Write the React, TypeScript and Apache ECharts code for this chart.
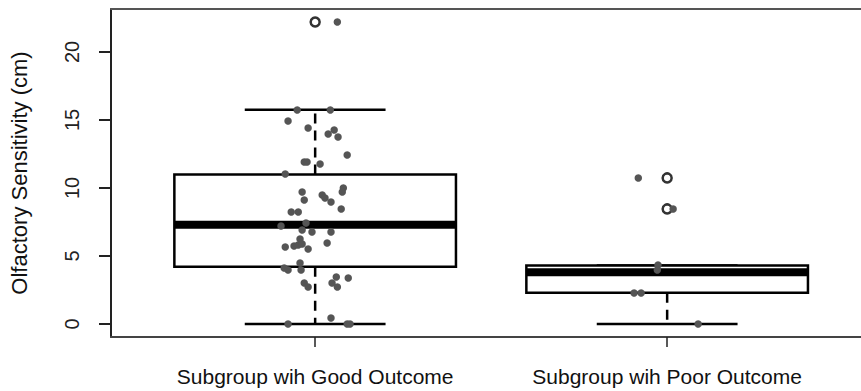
import React, { useEffect, useRef } from "react";
import * as echarts from "echarts";

const categories = ["Subgroup wih Good Outcome", "Subgroup wih Poor Outcome"];
const yTicks = [0, 5, 10, 15, 20];

// box stats: [group position, lower whisker, Q1, median, Q3, upper whisker]
const boxStats = [
  [1, 0, 4.2, 7.3, 11.0, 15.75],
  [2, 0, 2.3, 3.8, 4.3, 4.3],
];

// outliers drawn by boxplot (open circles)
const outlierX = [1, 2, 2];
const outlierY = [22.2, 10.74, 8.46];

// jittered raw points (strip chart)
const goodX = [
  0.949, 1.043, 0.923, 0.98, 1.054, 1.037, 1.065, 1.091, 0.969, 0.977, 1.014, 0.915,
  0.963, 0.969, 1.02, 1.028, 1.08, 1.077, 1.045, 1.074, 0.932, 0.952, 0.903, 0.974,
  0.963, 0.991, 1.045, 0.957, 1.034, 0.915, 0.94, 0.952, 0.963, 0.98, 0.912, 0.923,
  0.957, 0.96, 1.06, 1.094, 0.969, 0.98, 1.048, 1.063, 1.045, 0.923, 1.091, 1.099, 1.063,
];
const goodY = [
  15.74, 15.74, 14.93, 14.41, 14.26, 13.97, 13.75, 12.43, 11.91, 11.91, 11.76, 11.03,
  9.71, 9.12, 9.49, 9.26, 10.0, 9.71, 8.97, 8.46, 8.24, 8.24, 7.21, 7.43,
  6.91, 6.76, 6.76, 6.25, 5.96, 5.66, 5.74, 5.81, 5.88, 5.51, 4.12, 3.97,
  4.49, 3.97, 3.46, 3.38, 3.01, 2.72, 3.01, 2.72, 0.44, 0, 0, 0, 22.2,
];
const poorX = [1.918, 2.017, 1.974, 1.972, 1.906, 1.926, 2.088];
const poorY = [10.74, 8.46, 4.34, 3.97, 2.28, 2.28, 0];

const BOX_WIDTH = 0.8;
const CAP_WIDTH = 0.4;
const FONT = "'Liberation Sans', Arial, sans-serif";

export default function App() {
  const ref = useRef<HTMLDivElement>(null);

  useEffect(() => {
    if (!ref.current) return;
    const chart = echarts.init(ref.current, null, { renderer: "svg" });

    const points = goodX.map((x, i) => [x, goodY[i]]).concat(poorX.map((x, i) => [x, poorY[i]]));
    const outliers = outlierX.map((x, i) => [x, outlierY[i]]);

    const option: any = {
      animation: false,
      backgroundColor: "#fff",
      grid: { left: 111, right: 0, top: 9, bottom: 54, containLabel: false, outerBoundsMode: "none" },
      xAxis: [
        {
          type: "value",
          min: 0.42,
          max: 2.5507,
          position: "bottom",
          splitLine: { show: false },
          axisLine: { show: true, onZero: false, lineStyle: { color: "#444", width: 2 } },
          axisTick: {
            show: true,
            customValues: [1, 2],
            length: 10,
            lineStyle: { color: "#222", width: 1.5 },
          },
          axisLabel: {
            customValues: [1, 2],
            formatter: (v: number) => categories[Math.round(v) - 1] ?? "",
            color: "#111",
            fontFamily: FONT,
            fontSize: 21,
            margin: 29,
          },
        },
        {
          type: "value",
          min: 0.42,
          max: 2.5507,
          position: "top",
          splitLine: { show: false },
          axisLine: { show: true, onZero: false, lineStyle: { color: "#555", width: 2 } },
          axisTick: { show: false },
          axisLabel: { show: false },
        },
      ],
      yAxis: {
        type: "value",
        min: -0.956,
        max: 23.16,
        splitLine: { show: false },
        axisLine: { show: true, onZero: false, lineStyle: { color: "#222", width: 2 } },
        axisTick: {
          show: true,
          customValues: yTicks,
          length: 12,
          lineStyle: { color: "#222", width: 2 },
        },
        axisLabel: {
          customValues: yTicks,
          rotate: 90,
          color: "#222",
          fontFamily: FONT,
          fontSize: 20,
          margin: 29,
        },
        name: "Olfactory Sensitivity (cm)",
        nameLocation: "middle",
        nameRotate: 90,
        nameGap: 81,
        nameTextStyle: { color: "#111", fontFamily: FONT, fontSize: 22 },
      },
      series: [
        {
          type: "custom",
          xAxisIndex: 0,
          data: boxStats,
          encode: { x: 0, y: [1, 2, 3, 4, 5] },
          renderItem: (params: any, api: any) => {
            const x = api.value(0);
            const lo = api.coord([x, api.value(1)]);
            const q1 = api.coord([x, api.value(2)]);
            const med = api.coord([x, api.value(3)]);
            const q3 = api.coord([x, api.value(4)]);
            const hi = api.coord([x, api.value(5)]);
            const hb = api.size([BOX_WIDTH, 0])[0] / 2;
            const hc = api.size([CAP_WIDTH, 0])[0] / 2;
            const cx = lo[0];
            const stroke = "#000";
            const children: any[] = [];
            const dash = { stroke, lineWidth: 2.5, lineDash: [10, 7] };
            if (hi[1] < q3[1] - 1) {
              children.push({ type: "line", shape: { x1: cx, y1: q3[1], x2: cx, y2: hi[1] }, style: dash });
            }
            if (lo[1] > q1[1] + 1) {
              children.push({ type: "line", shape: { x1: cx, y1: q1[1], x2: cx, y2: lo[1] }, style: dash });
            }
            children.push({ type: "line", shape: { x1: cx - hc, y1: hi[1], x2: cx + hc, y2: hi[1] }, style: { stroke, lineWidth: 2.5 } });
            children.push({ type: "line", shape: { x1: cx - hc, y1: lo[1], x2: cx + hc, y2: lo[1] }, style: { stroke, lineWidth: 2.5 } });
            children.push({
              type: "rect",
              shape: { x: cx - hb, y: q3[1], width: hb * 2, height: q1[1] - q3[1] },
              style: { fill: "#fff", stroke, lineWidth: 2.5 },
            });
            children.push({
              type: "line",
              shape: { x1: cx - hb, y1: med[1], x2: cx + hb, y2: med[1] },
              style: { stroke, lineWidth: 8 },
            });
            return { type: "group", children };
          },
          z: 2,
        },
        {
          type: "scatter",
          data: outliers,
          symbol: "circle",
          symbolSize: 9,
          itemStyle: { color: "rgba(0,0,0,0)", borderColor: "#000", borderWidth: 2.5 },
          z: 3,
        },
        {
          type: "scatter",
          data: points,
          symbol: "circle",
          symbolSize: 7.5,
          itemStyle: { color: "#555", opacity: 1 },
          z: 4,
        },
      ],
    };

    chart.setOption(option);
    return () => chart.dispose();
  }, []);

  return (
    <div
      ref={ref}
      style={{ position: "fixed", left: 0, top: 0, width: 861, height: 391, background: "#fff" }}
    />
  );
}
